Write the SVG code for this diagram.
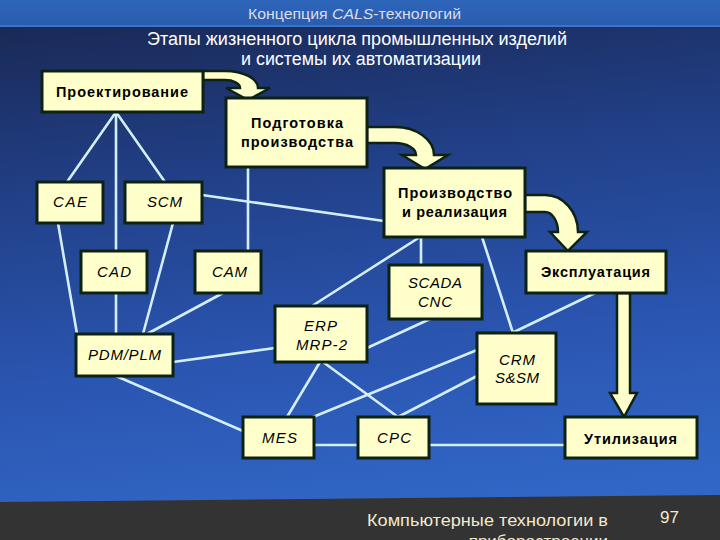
<svg xmlns="http://www.w3.org/2000/svg" width="720" height="540" viewBox="0 0 720 540">
<defs>
<linearGradient id="bg" x1="0" y1="0" x2="0.15" y2="1">
<stop offset="0" stop-color="#19264f"/>
<stop offset="0.35" stop-color="#213f86"/>
<stop offset="0.7" stop-color="#2a55b0"/>
<stop offset="1" stop-color="#3166c6"/>
</linearGradient>
<linearGradient id="topbar" x1="0" y1="0" x2="0" y2="1">
<stop offset="0" stop-color="#2e66bb"/>
<stop offset="1" stop-color="#2a5cae"/>
</linearGradient>
<style>
.box{fill:#ffffcc;stroke:#0e2214;stroke-width:3}
.arr{fill:#ffffcc;stroke:#0e2214;stroke-width:2.5;stroke-linejoin:miter}
.con line{stroke:#d4eef8;stroke-width:2.6;stroke-linecap:round}
.b{font-family:"Liberation Sans",Arial,sans-serif;font-weight:bold;font-size:14.5px;fill:#000}
.i{font-family:"Liberation Sans",Arial,sans-serif;font-style:italic;font-size:15px;fill:#000}
.h{font-family:"Liberation Sans",Arial,sans-serif;font-size:18px;fill:#ffffff}
.t{font-family:"Liberation Sans",Arial,sans-serif;font-size:14px;fill:#dcdce6}
.f{font-family:"Liberation Sans",Arial,sans-serif;font-size:17px;fill:#f2e8cc}
</style>
</defs>
<rect x="0" y="0" width="720" height="540" fill="url(#bg)"/>
<rect x="0" y="0" width="720" height="26" fill="url(#topbar)"/>
<rect x="0" y="25" width="720" height="2" fill="#3a74c8"/>
<polygon points="0,502 720,495 720,540 0,540" fill="#333333"/>
<text class="t" x="248" y="19" textLength="213" lengthAdjust="spacingAndGlyphs">Концепция <tspan font-style="italic">CALS</tspan>-технологий</text>
<text class="h" x="147" y="45" textLength="420" lengthAdjust="spacingAndGlyphs">Этапы жизненного цикла промышленных изделий</text>
<text class="h" x="241" y="65" textLength="240" lengthAdjust="spacingAndGlyphs">и системы их автоматизации</text>
<text class="f" x="367" y="526" textLength="241" lengthAdjust="spacingAndGlyphs">Компьютерные технологии в</text>
<text class="f" x="608" y="547" text-anchor="end">приборостроении</text>
<text class="f" x="660" y="523" font-size="14">97</text>

<g id="connectors" class="con">
<line x1="116" y1="112" x2="67" y2="182"/>
<line x1="116" y1="112" x2="116" y2="251"/>
<line x1="116" y1="293" x2="116" y2="334"/>
<line x1="116" y1="112" x2="165" y2="182"/>
<line x1="58" y1="223" x2="77" y2="334"/>
<line x1="173" y1="223" x2="143" y2="334"/>
<line x1="223" y1="293" x2="147" y2="334"/>
<line x1="202" y1="195" x2="384" y2="221"/>
<line x1="248" y1="167" x2="248" y2="251"/>
<line x1="420" y1="237" x2="312" y2="306"/>
<line x1="421" y1="237" x2="421" y2="265"/>
<line x1="482" y1="237" x2="513" y2="333"/>
<line x1="595" y1="293" x2="512" y2="333"/>
<line x1="367" y1="348" x2="430" y2="319"/>
<line x1="275" y1="348" x2="173" y2="362"/>
<line x1="116" y1="376" x2="243" y2="431"/>
<line x1="320" y1="362" x2="287" y2="417"/>
<line x1="323" y1="362" x2="398" y2="417"/>
<line x1="477" y1="350" x2="313" y2="417"/>
<line x1="477" y1="376" x2="398" y2="417"/>
<line x1="314" y1="445" x2="358" y2="445"/>
<line x1="429" y1="445" x2="565" y2="445"/>
</g>

<g id="flow-arrows">
<path class="arr" d="M 203 71 H 225 A 33 17 0 0 1 258 88 H 270 L 248 100 L 226 88 H 240 A 15 8 0 0 0 225 80 H 203 Z"/>
<path class="arr" d="M 367 127 H 395 A 39 28 0 0 1 434 155 H 448 L 425 169 L 402 155 H 416 A 21 12 0 0 0 395 143 H 367 Z"/>
<path class="arr" d="M 525 195 H 545 A 33 37 0 0 1 578 232 H 587 L 568 251 L 550 232 H 558 A 13 20 0 0 0 545 212 H 525 Z"/>
<path class="arr" d="M 617 293 V 393 H 610 L 624 417 L 637 393 H 630 V 293 Z"/>
</g>

<g id="n-proekt"><rect class="box" x="42" y="71" width="161" height="41"/><text class="b" x="56" y="97" textLength="132">Проектирование</text></g>
<g id="n-podgot"><rect class="box" x="226" y="98" width="141" height="69"/><text class="b" x="251" y="128" textLength="92">Подготовка</text><text class="b" x="241" y="147" textLength="112">производства</text></g>
<g id="n-proizv"><rect class="box" x="384" y="168" width="141" height="69"/><text class="b" x="398" y="198" textLength="114">Производство</text><text class="b" x="402" y="217" textLength="105">и реализация</text></g>
<g id="n-expl"><rect class="box" x="526" y="251" width="140" height="42"/><text class="b" x="541" y="277" textLength="109">Эксплуатация</text></g>
<g id="n-util"><rect class="box" x="565" y="417" width="132" height="41"/><text class="b" x="584" y="444" textLength="93">Утилизация</text></g>
<g id="n-cae"><rect class="box" x="37" y="182" width="66" height="41"/><text class="i" x="53" y="207" textLength="34">CAE</text></g>
<g id="n-scm"><rect class="box" x="125" y="182" width="77" height="41"/><text class="i" x="147" y="207" textLength="35">SCM</text></g>
<g id="n-cad"><rect class="box" x="81" y="251" width="66" height="42"/><text class="i" x="97" y="277" textLength="34">CAD</text></g>
<g id="n-cam"><rect class="box" x="195" y="251" width="66" height="42"/><text class="i" x="212" y="277" textLength="35">CAM</text></g>
<g id="n-scada"><rect class="box" x="389" y="265" width="93" height="54"/><text class="i" x="408" y="288" textLength="54">SCADA</text><text class="i" x="418" y="307" textLength="34">CNC</text></g>
<g id="n-erp"><rect class="box" x="275" y="306" width="92" height="56"/><text class="i" x="304" y="331" textLength="33">ERP</text><text class="i" x="296" y="350" textLength="51">MRP-2</text></g>
<g id="n-pdm"><rect class="box" x="76" y="334" width="97" height="42"/><text class="i" x="88" y="360" textLength="73">PDM/PLM</text></g>
<g id="n-crm"><rect class="box" x="477" y="333" width="79" height="71"/><text class="i" x="499" y="365" textLength="36">CRM</text><text class="i" x="495" y="383" textLength="44">S&amp;SM</text></g>
<g id="n-mes"><rect class="box" x="243" y="417" width="71" height="41"/><text class="i" x="262" y="443" textLength="35">MES</text></g>
<g id="n-cpc"><rect class="box" x="358" y="417" width="71" height="41"/><text class="i" x="377" y="443" textLength="34">CPC</text></g>
</svg>
